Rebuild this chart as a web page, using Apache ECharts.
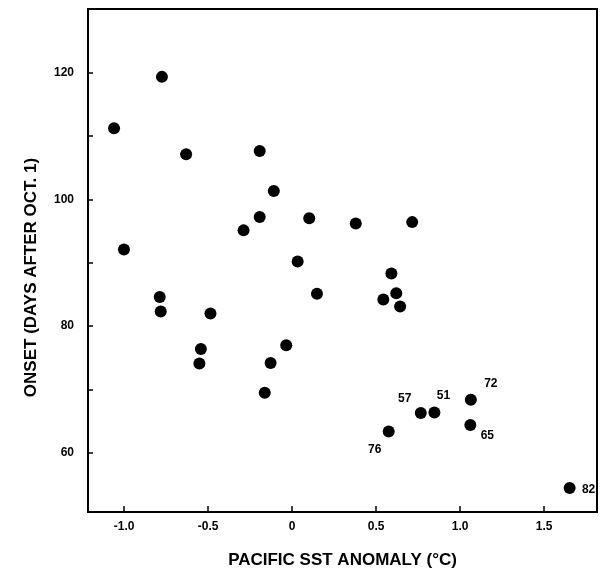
<!DOCTYPE html>
<html>
<head>
<meta charset="utf-8">
<script src="https://cdn.jsdelivr.net/npm/echarts@6/dist/echarts.min.js"></script>
<style>
  html, body { margin: 0; padding: 0; background: #fff; }
  #chart { width: 611px; height: 577px; }
</style>
</head>
<body>
<div id="chart"></div>
<script>
// Pacific SST anomaly (deg C) vs. onset (days after Oct. 1)
const sstAnomaly = [
  -1.06, -0.775, -0.631, -0.193, -0.109, -0.193, -0.289, 0.102, 0.379, 0.715,
  -1.001, 0.033, 0.591, -0.788, -0.782, -0.486, 0.148, 0.543, 0.62, 0.643,
  -0.543, -0.552, -0.035, -0.128, -0.163, 0.766, 0.847, 1.064, 1.061, 0.575, 1.652
];
const onsetDays = [
  111.2, 119.3, 107.1, 107.6, 101.3, 97.2, 95.1, 97.0, 96.2, 96.4,
  92.1, 90.2, 88.3, 84.6, 82.3, 82.0, 85.1, 84.2, 85.2, 83.1,
  76.4, 74.1, 77.0, 74.2, 69.5, 66.3, 66.4, 68.4, 64.4, 63.4, 54.5
];
// year tags written beside some of the points ('' = no tag)
const yearTags = [
  "", "", "", "", "", "", "", "", "", "",
  "", "", "", "", "", "", "", "", "", "",
  "", "", "", "", "", "57", "51", "72", "65", "76", "82"
];
const xTicks = [-1.0, -0.5, 0, 0.5, 1.0, 1.5];
const xTickLabels = ["-1.0", "-0.5", "0", "0.5", "1.0", "1.5"];
const yTicks = [60, 70, 80, 90, 100, 110, 120];
const yTickLabels = [60, 80, 100, 120];

// where each year tag sits relative to its dot
const tagOffsets = {
  "57": [-16, -14], "51": [9, -17], "72": [20, -16],
  "65": [17, 11], "76": [-14, 18], "82": [19, 2]
};

const font = "Liberation Sans";
const points = sstAnomaly.map((x, i) => {
  const tag = yearTags[i];
  const item = { value: [x, onsetDays[i]] };
  if (tag) {
    item.label = {
      show: true,
      formatter: tag,
      position: "inside",
      offset: tagOffsets[tag],
      color: "#000",
      fontFamily: font,
      fontWeight: "bold",
      fontSize: 12
    };
  }
  return item;
});

const chart = echarts.init(document.getElementById("chart"));
chart.setOption({
  animation: false,
  grid: {
    left: 88, right: 14, top: 9, bottom: 65,
    show: true, borderColor: "#000", borderWidth: 2
  },
  xAxis: {
    type: "value",
    min: -1.215, max: 1.815,
    splitLine: { show: false },
    axisLine: { show: true, onZero: false, lineStyle: { color: "#000", width: 2 } },
    axisTick: {
      show: true, inside: true, length: 6,
      customValues: xTicks,
      lineStyle: { color: "#000", width: 1.5 }
    },
    axisLabel: {
      customValues: xTicks,
      formatter: (v) => xTickLabels[xTicks.indexOf(+v.toFixed(1))] ?? "",
      color: "#000", fontFamily: font, fontWeight: "bold", fontSize: 12, margin: 9
    },
    name: "PACIFIC SST ANOMALY (°C)",
    nameLocation: "middle",
    nameGap: 40,
    nameTextStyle: { color: "#000", fontFamily: font, fontWeight: "bold", fontSize: 17 }
  },
  yAxis: {
    type: "value",
    min: 50.7, max: 130,
    splitLine: { show: false },
    axisLine: { show: true, onZero: false, lineStyle: { color: "#000", width: 2 } },
    axisTick: {
      show: true, inside: true, length: 5,
      customValues: yTicks,
      lineStyle: { color: "#000", width: 1.5 }
    },
    axisLabel: {
      customValues: yTickLabels,
      color: "#000", fontFamily: font, fontWeight: "bold", fontSize: 12, margin: 14
    },
    name: "ONSET (DAYS AFTER OCT. 1)",
    nameLocation: "middle",
    nameGap: 48,
    nameTextStyle: {
      color: "#000", fontFamily: font, fontWeight: "bold", fontSize: 17,
      padding: [0, 34, 0, 0]
    }
  },
  series: [{
    type: "scatter",
    symbol: "circle",
    symbolSize: 12,
    itemStyle: { color: "#000", opacity: 1 },
    data: points
  }]
});
</script>
</body>
</html>
